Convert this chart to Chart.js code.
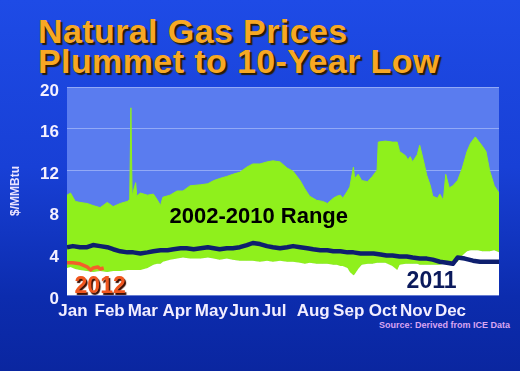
<!DOCTYPE html>
<html>
<head>
<meta charset="utf-8">
<script src="https://cdn.jsdelivr.net/npm/chart.js@4.4.1/dist/chart.umd.min.js"></script>
<style>
  html, body { margin: 0; padding: 0; }
  body {
    width: 520px; height: 371px; overflow: hidden; position: relative;
    background: linear-gradient(180deg, #1e4be6 0%, #1840d6 45%, #0c2cae 80%, #0a26a0 100%);
    font-family: "Liberation Sans", Arial, sans-serif;
  }
  #titulo {
    position: absolute; left: 38px; top: 16px;
    color: #f7a823; font-weight: bold; font-size: 34px; line-height: 30px;
    letter-spacing: 0.4px;
    text-shadow: 2px 2px 1px #2b1d00;
  }
  #fonte {
    position: absolute; right: 10px; top: 320px;
    color: #d9a6f2; font-weight: bold; font-size: 9px;
  }
  canvas { position: absolute; left: 0; top: 0; }
</style>
</head>
<body>
<div id="titulo">Natural Gas Prices<br>Plummet to 10-Year Low</div>
<div id="fonte">Source: Derived from ICE Data</div>
<canvas id="grafico" width="520" height="371"></canvas>
<script>
// Meses e posição (dia do ano) dos rótulos
const months = ["Jan", "Feb", "Mar", "Apr", "May", "Jun", "Jul", "Aug", "Sep", "Oct", "Nov", "Dec"];
const monthTickDays = [5, 36, 64, 93, 122, 150, 175, 208, 238, 267, 295, 324];

// Faixa 2002-2010 (máximo e mínimo, $/MMBtu) por dia do ano
const rangeDays = [0, 3, 7, 11, 17, 22, 28, 34, 39, 45, 51, 53, 54, 55, 58, 59, 62, 68, 73, 76,
  79, 81, 87, 93, 98, 104, 113, 119, 124, 129, 135, 140, 146, 152, 157, 163, 169, 174, 180, 186,
  191, 197, 201, 205, 211, 216, 220, 225, 228, 231, 233, 237, 239, 242, 243, 246, 249, 254, 258, 262,
  263, 269, 275, 279, 281, 286, 288, 290, 292, 296, 298, 301, 304, 307, 309, 313, 315, 318, 320, 323,
  326, 330, 334, 338, 341, 345, 347, 351, 354, 357, 361, 365];
const rangeMax = [9.6, 9.8, 9.0, 8.9, 8.8, 8.6, 8.4, 8.9, 8.5, 8.8, 9.0, 9.2, 18.0, 9.5, 10.8, 9.5, 9.8, 9.6, 9.7, 9.2,
  8.6, 9.4, 9.6, 10.0, 10.0, 10.5, 10.6, 10.7, 11.0, 11.2, 11.4, 11.6, 11.8, 12.3, 12.6, 12.6, 12.8, 12.9, 12.8, 12.2,
  11.9, 11.0, 10.2, 9.5, 9.1, 9.0, 8.8, 9.3, 9.5, 9.6, 9.3, 10.0, 10.4, 12.3, 11.2, 11.6, 11.0, 10.9, 11.4, 12.0,
  14.7, 14.8, 14.7, 14.7, 13.8, 13.4, 13.0, 13.3, 12.8, 13.5, 14.4, 13.0, 11.5, 10.5, 9.5, 9.3, 9.7, 9.1, 11.6, 10.3,
  10.5, 11.0, 12.2, 13.8, 14.6, 15.2, 14.9, 14.3, 13.8, 12.0, 10.5, 9.8];
const rangeMin = [2.6, 2.7, 2.5, 2.4, 2.3, 2.2, 2.3, 2.2, 2.3, 2.3, 2.4, 2.4, 2.4, 2.4, 2.4, 2.4, 2.4, 2.6, 2.9, 3.0,
  3.0, 3.2, 3.4, 3.5, 3.6, 3.5, 3.5, 3.6, 3.5, 3.4, 3.5, 3.4, 3.3, 3.3, 3.3, 3.2, 3.3, 3.2, 3.3, 3.2,
  3.2, 3.1, 3.0, 3.1, 3.0, 3.0, 3.0, 2.9, 2.9, 2.8, 2.8, 2.6, 2.2, 1.9, 2.0, 2.5, 2.9, 3.0, 3.0, 3.1,
  3.1, 3.1, 2.8, 2.4, 2.9, 3.0, 3.0, 3.0, 3.0, 3.0, 2.9, 2.9, 2.9, 2.9, 2.9, 2.9, 2.9, 3.0, 3.0, 3.0,
  3.0, 3.2, 3.8, 4.2, 4.3, 4.3, 4.3, 4.2, 4.2, 4.2, 4.3, 4.1];

// Preços de 2011
const days2011 = [0, 5, 11, 17, 22, 28, 34, 39, 45, 51, 56, 62, 68, 73, 79, 85, 90, 96, 101, 107,
  113, 119, 124, 129, 135, 140, 146, 152, 157, 163, 169, 174, 180, 186, 191, 197, 203, 208, 214, 220,
  225, 231, 237, 242, 248, 254, 259, 265, 270, 275, 281, 287, 292, 298, 304, 309, 315, 321, 326, 330,
  336, 343, 349, 355, 360, 365];
const prices2011 = [4.6, 4.7, 4.6, 4.6, 4.8, 4.7, 4.6, 4.4, 4.2, 4.1, 4.1, 4.0, 4.1, 4.2, 4.3, 4.3, 4.4, 4.5, 4.5, 4.4,
  4.5, 4.6, 4.5, 4.4, 4.5, 4.5, 4.6, 4.8, 5.0, 4.9, 4.7, 4.6, 4.5, 4.6, 4.7, 4.6, 4.5, 4.4, 4.3, 4.3,
  4.2, 4.2, 4.1, 4.1, 4.0, 4.0, 4.0, 3.9, 3.8, 3.8, 3.7, 3.7, 3.6, 3.5, 3.5, 3.4, 3.2, 3.1, 3.0, 3.6,
  3.5, 3.3, 3.2, 3.2, 3.2, 3.2];

// Preços de 2012 (até fevereiro)
const days2012 = [0, 5, 11, 17, 20, 22, 26, 28, 31];
const prices2012 = [3.1, 3.1, 3.0, 2.7, 2.4, 2.6, 2.7, 2.5, 2.6];

const pontos = (xs, ys) => xs.map((x, i) => ({ x: x, y: ys[i] }));

// Fundo da área do gráfico e rótulos das séries
const fundoPlot = {
  id: "fundoPlot",
  beforeDraw(chart) {
    const { ctx, chartArea: a } = chart;
    ctx.save();
    ctx.fillStyle = "#5a7cef";
    ctx.fillRect(a.left, a.top, a.right - a.left, a.bottom - a.top);
    ctx.restore();
  }
};

const rotulos = {
  id: "rotulos",
  afterDatasetsDraw(chart) {
    const { ctx, scales: { x, y } } = chart;
    const escreve = (txt, dia, val, cor, tam, sombra) => {
      ctx.save();
      ctx.font = "bold " + tam + "px 'Liberation Sans', Arial, sans-serif";
      ctx.textAlign = "center";
      ctx.textBaseline = "middle";
      if (sombra) {
        ctx.shadowColor = sombra;
        ctx.shadowOffsetX = 1.5;
        ctx.shadowOffsetY = 1.5;
        ctx.shadowBlur = 1;
      }
      ctx.fillStyle = cor;
      ctx.fillText(txt, x.getPixelForValue(dia), y.getPixelForValue(val));
      ctx.restore();
    };
    escreve("2002-2010 Range", 162, 7.5, "#000000", 22);
    escreve("2011", 308, 1.25, "#0b1a5c", 23);
    escreve("2012", 28, 0.8, "#f0561e", 23, "#3a0c00");
  }
};

// order: o menor valor fica por cima
const grafico = new Chart(document.getElementById("grafico"), {
  type: "line",
  data: {
    datasets: [
      {
        label: "Min 2002-2010",
        data: pontos(rangeDays, rangeMin),
        borderColor: "#ffffff",
        backgroundColor: "#ffffff",
        borderWidth: 1,
        fill: "origin",
        order: 4
      },
      {
        label: "Max 2002-2010",
        data: pontos(rangeDays, rangeMax),
        borderColor: "#8ff01c",
        backgroundColor: "#8ff01c",
        borderWidth: 1,
        fill: "-1",
        order: 3
      },
      {
        label: "2011",
        data: pontos(days2011, prices2011),
        borderColor: "#0e1f6e",
        borderWidth: 4.5,
        borderJoinStyle: "round",
        fill: false,
        order: 2
      },
      {
        label: "2012",
        data: pontos(days2012, prices2012),
        borderColor: "#f2602a",
        borderWidth: 3.5,
        borderJoinStyle: "round",
        fill: false,
        order: 1
      }
    ]
  },
  options: {
    responsive: false,
    animation: false,
    elements: { point: { radius: 0 }, line: { tension: 0 } },
    layout: { padding: { left: 0, right: 21, top: 87, bottom: 0 } },
    plugins: { legend: { display: false }, tooltip: { enabled: false } },
    scales: {
      x: {
        type: "linear",
        min: 0,
        max: 365,
        grid: { display: false },
        border: { display: false },
        afterBuildTicks: (axis) => { axis.ticks = monthTickDays.map(v => ({ value: v })); },
        afterFit: (axis) => { axis.height = 76; },
        ticks: {
          autoSkip: false,
          maxRotation: 0,
          padding: -2,
          color: "#f2eeff",
          font: { family: "'Liberation Sans', Arial, sans-serif", size: 17, weight: "bold" },
          callback: (v, i) => months[i]
        }
      },
      y: {
        min: 0,
        max: 20,
        afterFit: (axis) => { axis.width = 67; },
        grid: { color: "rgba(215,225,255,0.45)", drawTicks: false },
        border: { display: false },
        title: {
          display: true,
          text: "$/MMBtu",
          color: "#ece4ff",
          padding: { top: 8, bottom: 0 },
          font: { family: "'Liberation Sans', Arial, sans-serif", size: 12, weight: "bold" }
        },
        ticks: {
          stepSize: 2,
          padding: 8,
          labelOffset: 4,
          color: "#f4f0ff",
          font: { family: "'Liberation Sans', Arial, sans-serif", size: 17, weight: "bold" },
          callback: (v) => (v % 4 === 0 ? v : "")
        }
      }
    }
  },
  plugins: [fundoPlot, rotulos]
});
</script>
</body>
</html>
